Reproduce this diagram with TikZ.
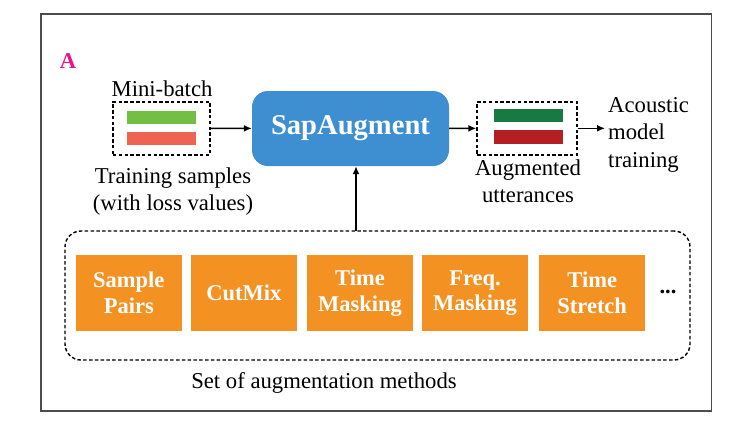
\documentclass[tikz,border=0pt]{standalone}
\usepackage{fontspec}
\setmainfont{Liberation Serif}
\usetikzlibrary{arrows.meta,positioning,calc}
\definecolor{sapblue}{HTML}{3D8FD1}
\definecolor{batchgreen}{HTML}{72BF44}
\definecolor{batchred}{HTML}{EE6352}
\definecolor{auggreen}{HTML}{177A43}
\definecolor{augred}{HTML}{B41F24}
\definecolor{methodorange}{HTML}{F39223}
\definecolor{panelpink}{HTML}{E5158A}
\begin{document}
\begin{tikzpicture}[
			x=1pt, y=-1pt,
			every node/.style={inner sep=0pt},
			txt/.style={font=\fontsize{22.7}{27}\selectfont, align=center},
			batchbox/.style={draw, line width=1.4pt, dash pattern=on 3.5pt off 2.3pt, minimum width=97pt, minimum height=53pt},
			bar/.style={minimum width=69pt, minimum height=13.5pt},
			methodbox/.style={fill=methodorange, text=white, align=center,
					font=\bfseries\fontsize{22.5}{25.5}\selectfont,
					minimum width=105.5pt, minimum height=75.7pt},
			arr/.style={-{Latex[length=8pt,width=7pt]}, line width=1.5pt}
		]

		\useasboundingbox (0,0) rectangle (744,426);
		\draw[gray!60!black, line width=1.5pt] (41,14) rectangle (711.5,411);

		\node[text=panelpink, font=\bfseries\fontsize{22.6}{27}\selectfont] (panel) at (68,61) {A};

		% mini-batch
		\node[batchbox] (mb) at (161.4,128.3) {};
		\node[bar, fill=batchgreen] (mbg) at (161.4,117.3) {};
		\node[bar, fill=batchred] (mbr) at (161.4,138.3) {};
		\node[txt] (mblabel) at (162,89) {Mini-batch};
		\node[txt] (trainlabel) at (173,191.5) {Training samples\\(with loss values)};

		% sapaugment
		\node[fill=sapblue, rounded corners=16pt, minimum width=197pt, minimum height=75pt,
			text=white, font=\bfseries\fontsize{28.6}{32}\selectfont] (sap) at (350.5,128.5) {SapAugment};

		% augmented utterances
		\node[batchbox, minimum width=100pt] (aug) at (527,128.3) {};
		\node[bar, fill=auggreen] (augg) at (528.5,115.5) {};
		\node[bar, fill=augred] (augr) at (528.5,137) {};
		\node[txt] (auglabel) at (528,181.5) {Augmented\\utterances};
		\node[txt, align=left, font=\fontsize{22.7}{27.5}\selectfont, anchor=west] (acoustic) at (608,134.5) {Acoustic\\model\\training};

		% augmentation methods
		\node[draw, line width=1.4pt, dash pattern=on 3.5pt off 2.3pt, rounded corners=16pt,
			minimum width=625pt, minimum height=129pt] (methods) at (377.5,295.5) {};
		\node[methodbox] (m1) at (128.8,293) {Sample\\Pairs};
		\node[methodbox] (m2) at (243.8,293) {CutMix};
		\node[methodbox] (m3) at (360,293) {Time\\Masking};
		\node[methodbox] (m4) at (475,293) {Freq.\\Masking};
		\node[methodbox] (m5) at (592.2,293) {Time\\Stretch};
		\node[font=\bfseries\fontsize{22.5}{25}\selectfont] (more) at (668,292) {...};
		\node[txt] (setlabel) at (324,383) {Set of augmentation methods};

		\coordinate (up) at (356,231);
		\draw[arr] (mb) -- (sap);
		\draw[arr] (sap) -- (aug);
		\draw[arr, shorten >=3pt] (aug.east) -- (aug.east -| acoustic.west);
		\draw[arr] (up) -- (up |- sap.south);

	\end{tikzpicture}
\end{document}
